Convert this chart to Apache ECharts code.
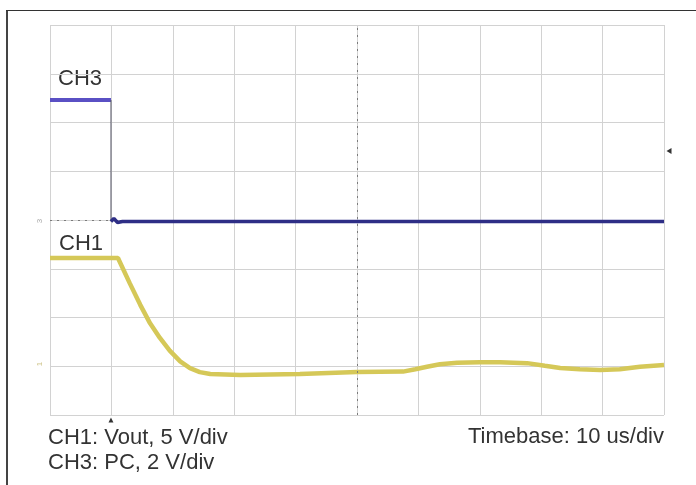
<!DOCTYPE html>
<html>
<head>
<meta charset="utf-8">
<script src="https://cdn.jsdelivr.net/npm/echarts@6/dist/echarts.min.js"></script>
<style>
html,body{margin:0;padding:0;background:#fff;}
#chart{width:696px;height:485px;}
</style>
</head>
<body>
<div id="chart"></div>
<script>
// ---- Data (time in us, voltages in V) ----
var ch1Time  = [0, 11.07, 13.0, 14.7, 16.3, 17.9, 19.5, 21.2, 22.8, 24.4, 26.1, 31.0, 40.7, 50.0, 57.5, 59.5, 61.4, 63.5, 66.3, 70.0, 73.3, 77.7, 80.6, 83.1, 86.3, 89.6, 92.8, 96.1, 100];
var ch1Volts = [11.1, 11.1, 8.5, 6.3, 4.4, 2.9, 1.6, 0.5, -0.2, -0.6, -0.8, -0.9, -0.8, -0.6, -0.55, -0.3, -0.05, 0.2, 0.36, 0.42, 0.42, 0.32, 0.05, -0.18, -0.3, -0.38, -0.3, -0.05, 0.12];

var ch3HighTime  = [0, 9.93];
var ch3HighVolts = [4.92, 4.92];
var ch3EdgeTime  = [9.93, 9.93];
var ch3EdgeVolts = [4.92, -0.06];
var ch3LowTime   = [9.93, 10.4, 11.0, 11.8, 100];
var ch3LowVolts  = [-0.06, 0.06, -0.1, -0.06, -0.06];

var triggerTime  = 9.93;   // us
var triggerLevel = 2.83;   // V on CH3

var xTicks = [0, 100, 10];       // min, max, interval (10 us/div)
var ch3Scale = [-8, 8, 2];       // 2 V/div
var ch1Scale = [-5, 35, 5];      // 5 V/div

var labelCH3 = 'CH3';
var labelCH1 = 'CH1';
var noteLines = ['CH1: Vout, 5 V/div', 'CH3: PC, 2 V/div'];
var timebaseText = 'Timebase: 10 us/div';

function zip(a, b) { return a.map(function (v, i) { return [v, b[i]]; }); }

var chart = echarts.init(document.getElementById('chart'));
var gridColor = '#d2d2d2';
var FONT = '"Liberation Sans", Arial, sans-serif';

var option = {
  backgroundColor: '#ffffff',
  animation: false,
  grid: { left: 50, top: 25, right: 32, bottom: 70, containLabel: false },
  xAxis: {
    type: 'value', min: xTicks[0], max: xTicks[1], interval: xTicks[2],
    axisLine: { show: false }, axisTick: { show: false }, axisLabel: { show: false },
    splitLine: { show: true, lineStyle: { color: gridColor, width: 1 } }
  },
  yAxis: [
    {
      type: 'value', min: ch3Scale[0], max: ch3Scale[1], interval: ch3Scale[2],
      axisLine: { show: false }, axisTick: { show: false }, axisLabel: { show: false },
      splitLine: { show: true, lineStyle: { color: gridColor, width: 1 } }
    },
    {
      type: 'value', min: ch1Scale[0], max: ch1Scale[1], interval: ch1Scale[2],
      axisLine: { show: false }, axisTick: { show: false }, axisLabel: { show: false },
      splitLine: { show: false }
    }
  ],
  series: [
    {
      name: 'center', type: 'line', data: [], yAxisIndex: 0,
      markLine: {
        silent: true, symbol: 'none', label: { show: false },
        lineStyle: { color: '#7a7a7a', type: [2, 5], width: 1 },
        data: [{ xAxis: (xTicks[0] + xTicks[1]) / 2 }, { yAxis: 0 }]
      }
    },
    {
      name: 'CH1', type: 'line', yAxisIndex: 1, showSymbol: false,
      data: zip(ch1Time, ch1Volts),
      lineStyle: { color: '#d5c858', width: 4.5 },
      z: 3
    },
    {
      name: 'CH3 high', type: 'line', yAxisIndex: 0, showSymbol: false,
      data: zip(ch3HighTime, ch3HighVolts),
      lineStyle: { color: '#5a50c4', width: 4 },
      z: 4
    },
    {
      name: 'CH3 edge', type: 'line', yAxisIndex: 0, showSymbol: false,
      data: zip(ch3EdgeTime, ch3EdgeVolts),
      lineStyle: { color: '#555566', width: 1 },
      z: 4,
      markPoint: {
        silent: true, label: { show: false },
        data: [
          { coord: [triggerTime, ch3Scale[0]], symbol: 'triangle', symbolSize: [5, 5], symbolOffset: [0, 5], itemStyle: { color: '#333' } },
          { coord: [xTicks[1], triggerLevel], symbol: 'triangle', symbolSize: [6, 5], symbolRotate: 90, symbolOffset: [5, 0], itemStyle: { color: '#333' } }
        ]
      }
    },
    {
      name: 'CH3 low', type: 'line', yAxisIndex: 0, showSymbol: false,
      data: zip(ch3LowTime, ch3LowVolts),
      lineStyle: { color: '#2e2e86', width: 3.5 },
      z: 5
    }
  ],
  graphic: [
    { type: 'line', shape: { x1: 7, y1: 10, x2: 7, y2: 485 }, style: { stroke: '#444', lineWidth: 2 } },
    { type: 'line', shape: { x1: 6, y1: 10.5, x2: 696, y2: 10.5 }, style: { stroke: '#333', lineWidth: 1.2 } },
    { type: 'text', left: 58, top: 68, style: { text: labelCH3, font: '22px ' + FONT, fill: '#333' } },
    { type: 'text', left: 59, top: 233, style: { text: labelCH1, font: '22px ' + FONT, fill: '#333' } },
    { type: 'text', left: 48, top: 427, style: { text: noteLines[0], font: '22px ' + FONT, fill: '#333' } },
    { type: 'text', left: 48, top: 452, style: { text: noteLines[1], font: '22px ' + FONT, fill: '#333' } },
    { type: 'text', right: 32, top: 426, style: { text: timebaseText, font: '22px ' + FONT, fill: '#333' } },
    { type: 'text', x: 40, y: 221, rotation: Math.PI / 2, style: { text: '3', font: '8px ' + FONT, fill: '#aaa', textAlign: 'center', textVerticalAlign: 'middle' } },
    { type: 'text', x: 40, y: 364, rotation: Math.PI / 2, style: { text: '1', font: '8px ' + FONT, fill: '#cfc48a', textAlign: 'center', textVerticalAlign: 'middle' } }
  ]
};
chart.setOption(option);
</script>
</body>
</html>
